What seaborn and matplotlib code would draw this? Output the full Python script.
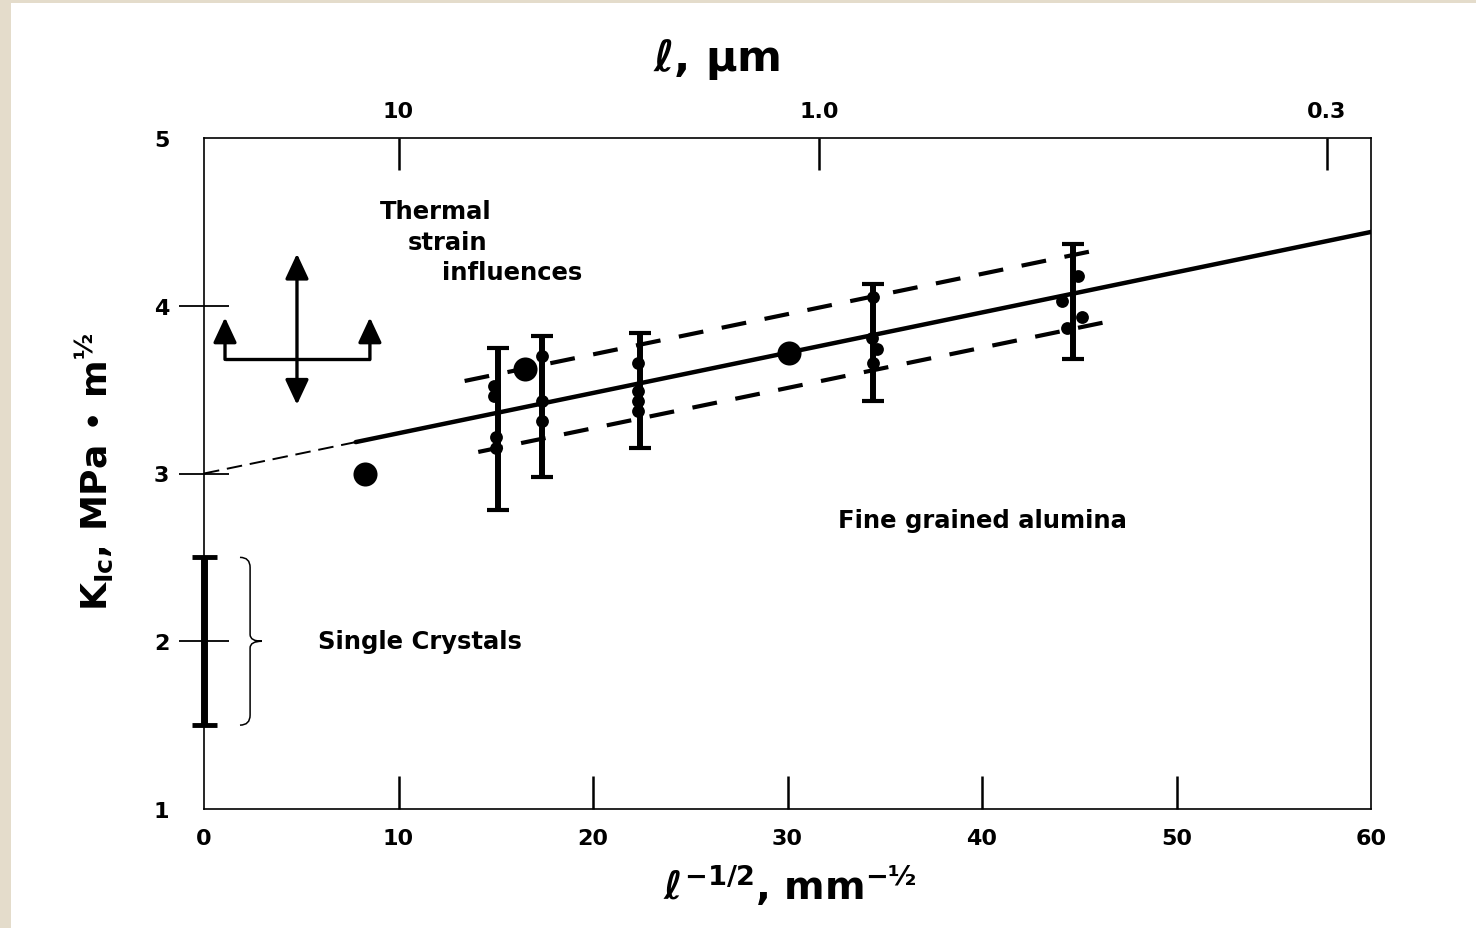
import numpy as np
import pandas as pd
import matplotlib
matplotlib.use("Agg")
import matplotlib.pyplot as plt
from matplotlib.path import Path
from matplotlib.patches import PathPatch, Rectangle
import seaborn as sns

# ---- data: x = l^(-1/2) [mm^(-1/2)], y = K_Ic [MPa m^(1/2)] ----
bar_x = [15.1, 17.4, 22.4, 34.4, 44.7]
bar_lo = [2.78, 2.98, 3.15, 3.43, 3.68]
bar_hi = [3.75, 3.82, 3.84, 4.13, 4.37]

pt_x = [14.9, 14.9, 15.0, 15.0,
        17.4, 17.4, 17.4,
        22.3, 22.3, 22.3, 22.3,
        34.4, 34.35, 34.6, 34.4,
        44.94, 44.11, 45.14, 44.37]
pt_y = [3.52, 3.46, 3.22, 3.15,
        3.70, 3.43, 3.31,
        3.66, 3.49, 3.43, 3.37,
        4.05, 3.81, 3.74, 3.66,
        4.18, 4.03, 3.93, 3.87]

big_x = [8.3, 16.5, 30.1]
big_y = [3.00, 3.62, 3.72]

fit_intercept = 3.0
fit_slope = 0.024
fit_start = 7.8
band_upper_offset = 0.23
band_lower_offset = -0.21
band_upper_range = [13.4, 45.8]
band_lower_range = [14.1, 46.5]

single_crystal_range = [1.5, 2.5]

x_ticks = [0, 10, 20, 30, 40, 50, 60]
y_ticks = [1, 2, 3, 4, 5]
top_um = [10, 1.0, 0.3]
top_labels = ["10", "1.0", "0.3"]

# ---- style ----
sns.set_style("white")
plt.rcParams["font.family"] = ["DejaVu Sans"]
plt.rcParams["font.weight"] = "bold"
plt.rcParams["mathtext.fontset"] = "dejavusans"
for key in ("text.color", "axes.labelcolor", "xtick.color", "ytick.color",
            "axes.edgecolor"):
    plt.rcParams[key] = "black"

fig = plt.figure(figsize=(14.76, 9.29), dpi=100)
fig.patch.set_facecolor("white")
beige = "#e4dccb"
fig.add_artist(Rectangle((0, 0), 11 / 1476, 1, transform=fig.transFigure,
                         facecolor=beige, edgecolor="none", zorder=-10))
fig.add_artist(Rectangle((0, 1 - 4 / 929), 1, 4 / 929, transform=fig.transFigure,
                         facecolor=beige, edgecolor="none", zorder=-10))

ax = fig.add_axes([204 / 1476, 119 / 929, 1167 / 1476, 671 / 929])
ax.set_xlim(0, 60)
ax.set_ylim(1, 5)
for s in ax.spines.values():
    s.set_linewidth(1.2)
    s.set_color("black")

# fitted line, its extrapolation and scatter band
fit_df = pd.DataFrame({"x": [fit_start, 60.0]})
fit_df["y"] = fit_intercept + fit_slope * fit_df["x"]
sns.lineplot(data=fit_df, x="x", y="y", ax=ax, color="black", lw=3.2, zorder=3)

ext_x = np.array([0.0, fit_start])
ax.plot(ext_x, fit_intercept + fit_slope * ext_x, color="black", lw=1.4,
        dashes=(8, 4), clip_on=False, zorder=3)

for rng, off in ((band_upper_range, band_upper_offset),
                 (band_lower_range, band_lower_offset)):
    bx = np.array(rng)
    ax.plot(bx, fit_intercept + fit_slope * bx + off, color="black", lw=3.0,
            dashes=(6, 4.5), zorder=3)

# error bars
mid = (np.array(bar_lo) + np.array(bar_hi)) / 2
ax.errorbar(bar_x, mid, yerr=[mid - np.array(bar_lo), np.array(bar_hi) - mid],
            fmt="none", ecolor="black", elinewidth=4.3, capsize=8, capthick=3,
            zorder=4)

# measured points
pts = pd.DataFrame({"x": pt_x, "y": pt_y})
sns.scatterplot(data=pts, x="x", y="y", ax=ax, color="black", s=85,
                marker="o", edgecolor="black", linewidth=0, zorder=5)
bigs = pd.DataFrame({"x": big_x, "y": big_y})
sns.scatterplot(data=bigs, x="x", y="y", ax=ax, color="black", s=300,
                marker="o", edgecolor="black", linewidth=0, zorder=5)

# single crystal range on the y axis
sc_mid = np.mean(single_crystal_range)
ax.errorbar([0], [sc_mid], yerr=[[sc_mid - single_crystal_range[0]],
                                 [single_crystal_range[1] - sc_mid]],
            fmt="none", ecolor="black", elinewidth=5, capsize=9, capthick=3.5,
            zorder=6, clip_on=False)

# curly brace next to the single crystal bar
y0, y1 = single_crystal_range
ym = (y0 + y1) / 2
xa, xb, xc = 1.85, 2.37, 2.98
verts = [(xa, y1), (xb, y1), (xb, y1 - 0.06),
         (xb, ym + 0.04),
         (xb, ym), (xc, ym),
         (xb, ym), (xb, ym - 0.04),
         (xb, y0 + 0.06),
         (xb, y0), (xa, y0)]
codes = [Path.MOVETO, Path.CURVE3, Path.CURVE3,
         Path.LINETO,
         Path.CURVE3, Path.CURVE3,
         Path.CURVE3, Path.CURVE3,
         Path.LINETO,
         Path.CURVE3, Path.CURVE3]
ax.add_patch(PathPatch(Path(verts, codes), facecolor="none", edgecolor="black",
                       lw=1.1, zorder=4))

# thermal strain arrows
arrow_kw = dict(arrowstyle="-|>,head_length=0.9,head_width=0.42", color="black",
                lw=2.4, shrinkA=0, shrinkB=0, mutation_scale=17)
cx, cy = 4.78, 3.68
ax.annotate("", xy=(cx, 4.31), xytext=(cx, cy), arrowprops=arrow_kw)
ax.annotate("", xy=(cx, 3.41), xytext=(cx, cy), arrowprops=arrow_kw)
ax.plot([1.08, 8.53], [cy, cy], color="black", lw=2.4, solid_capstyle="butt")
ax.annotate("", xy=(1.08, 3.93), xytext=(1.08, cy), arrowprops=arrow_kw)
ax.annotate("", xy=(8.53, 3.93), xytext=(8.53, cy), arrowprops=arrow_kw)

# annotations
txt_kw = dict(fontsize=17.5, fontweight="bold", ha="left", va="center")
ax.text(9.05, 4.565, "Thermal", **txt_kw)
ax.text(10.49, 4.38, "strain", **txt_kw)
ax.text(12.24, 4.20, "influences", **txt_kw)
ax.text(32.6, 2.72, "Fine grained alumina", **txt_kw)
ax.text(5.86, 2.0, "Single Crystals", **txt_kw)

# bottom / left ticks: labels on the majors, tick marks on the inner minors
ax.xaxis.remove_overlapping_locs = False
ax.yaxis.remove_overlapping_locs = False
ax.set_xticks(x_ticks)
ax.set_xticklabels([str(v) for v in x_ticks], fontsize=16, fontweight="bold")
ax.set_xticks(x_ticks[1:-1], minor=True)
ax.set_yticks(y_ticks)
ax.set_yticklabels([str(v) for v in y_ticks], fontsize=16, fontweight="bold")
ax.set_yticks(y_ticks[1:-1], minor=True)
ax.tick_params(axis="x", which="major", length=0, pad=14, bottom=True, top=False)
ax.tick_params(axis="x", which="minor", direction="in", length=24, width=1.8,
               bottom=True, top=False, color="black")
ax.tick_params(axis="y", which="major", length=0, pad=25, left=True, right=False)
ax.tick_params(axis="y", which="minor", direction="inout", length=36, width=1.3,
               left=True, right=False, color="black")
ax.set_xlabel("")
ax.set_ylabel("")

# top axis: grain size in micrometres, x = (l / 1000 mm)^(-1/2)
ax2 = ax.twiny()
ax2.set_xlim(ax.get_xlim())
ax2.set_xticks(np.sqrt(1000.0 / np.array(top_um)))
ax2.set_xticklabels(top_labels, fontsize=16, fontweight="bold")
ax2.tick_params(axis="x", direction="in", length=23, width=1.8, pad=12,
                color="black")
for s in ax2.spines.values():
    s.set_visible(False)

# axis titles
fig.text(717 / 1476, 1 - 60 / 929, r"$\ell$, µm", fontsize=31, fontweight="bold",
         ha="center", va="center")
fig.text(790 / 1476, 1 - 885 / 929, r"$\ell^{-1/2}$, mm$^{\mathbf{-½}}$",
         fontsize=28, fontweight="bold", ha="center", va="center")
fig.text(95 / 1476, 1 - 472 / 929, r"K$_{\mathrm{Ic}}$, MPa • m$^{\mathbf{½}}$",
         fontsize=26, fontweight="bold", ha="center", va="center", rotation=90)

fig.savefig("out.png", dpi=100, facecolor=fig.get_facecolor())
